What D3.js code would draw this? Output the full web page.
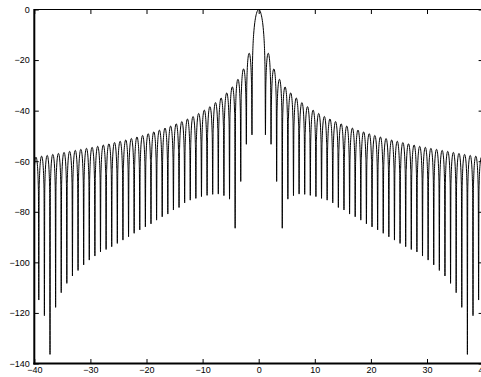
<!DOCTYPE html>
<html>
<head>
<meta charset="utf-8">
<script src="https://cdn.jsdelivr.net/npm/d3@7"></script>
<style>
  html, body { margin: 0; padding: 0; background: #fff; }
  svg { display: block; }
</style>
</head>
<body>
<div id="chart"></div>
<script>
const xTicks = [-40, -30, -20, -10, 0, 10, 20, 30, 40];
const yTicks = [0, -20, -40, -60, -80, -100, -120, -140];

// main lobe, right half (the plot is symmetric about 0)
const mainX = [0, 0.2, 0.4, 0.6, 0.7, 0.8, 0.9, 1.0, 1.05, 1.1, 1.15];
const mainDb = [0, -0.4, -1.6, -3.7, -5.2, -7.2, -9.8, -13.5, -16.3, -20.5, -28];

// nulls on the right side, mirrored for the left
const nullX = [1.2, 2.2, 3.2, 4.2, 5.2, 6.2, 7.2, 8.2, 9.2, 10.2,
  11.2, 12.2, 13.2, 14.2, 15.2, 16.2, 17.2, 18.2, 19.2, 20.2,
  21.2, 22.2, 23.2, 24.2, 25.2, 26.2, 27.2, 28.2, 29.2, 30.2,
  31.2, 32.2, 33.2, 34.2, 35.2, 36.2, 37.2, 38.2, 39.2];
const nullDb = [-49.6, -53.3, -68.0, -86.5, -75.0, -73.6, -73.0, -73.1, -73.5, -74.0,
  -74.7, -75.4, -76.5, -78.3, -79.3, -80.9, -82.0, -83.3, -84.8, -86.0,
  -87.2, -88.5, -89.9, -91.2, -92.5, -93.8, -94.9, -95.9, -97.5, -99.1,
  -101.0, -103.2, -105.4, -108.3, -112.0, -117.8, -136.4, -121.1, -114.9];

// sidelobe peaks, one per lobe starting at each null
const peakDb = [-17.3, -23.5, -27.6, -30.6, -33.0, -35.0, -36.8, -38.4, -39.8, -41.1,
  -42.3, -43.3, -44.3, -45.2, -46.1, -46.9, -47.7, -48.4, -49.1, -49.8,
  -50.4, -51.0, -51.6, -52.1, -52.6, -53.1, -53.6, -54.1, -54.5, -54.9,
  -55.3, -55.7, -56.1, -56.5, -56.9, -57.3, -57.7, -58.0, -58.4];

// shape of one sidelobe: position across the lobe and dB below its peak
const lobeWidth = 1;
const lobeFrac = [0.06, 0.1, 0.15, 0.2, 0.25, 0.32, 0.4, 0.5, 0.6, 0.68, 0.75, 0.8, 0.85, 0.9, 0.94];
const lobeDrop = [-14.5, -10.2, -6.9, -4.6, -3.0, -1.5, -0.4, 0, -0.4, -1.5, -3.0, -4.6, -6.9, -10.2, -14.5];

const width = 481;
const height = 377;
const plot = { l: 34.3, r: 483.1, t: 9.5, b: 363.5 };
const fontSize = 9;

const half = mainX.slice(1).map((x, i) => [x, mainDb[i + 1]]);
nullX.forEach((nx, i) => {
  half.push([nx, nullDb[i]]);
  lobeFrac.forEach((f, j) => half.push([nx + f * lobeWidth, peakDb[i] + lobeDrop[j]]));
});
const points = half.map(([x, v]) => [-x, v]).reverse()
  .concat([[mainX[0], mainDb[0]]], half);

const svg = d3.select('#chart').append('svg')
  .attr('width', width)
  .attr('height', height)
  .attr('viewBox', [0, 0, width, height])
  .attr('xmlns', 'http://www.w3.org/2000/svg')
  .style('background', '#fff');

const scaleX = d3.scaleLinear().domain([-40, 40]).range([plot.l, plot.r]);
const scaleY = d3.scaleLinear().domain([-140, 0]).range([plot.b, plot.t]);

svg.append('clipPath')
  .attr('id', 'plot-clip')
  .append('rect')
  .attr('x', plot.l)
  .attr('y', plot.t - 1)
  .attr('width', plot.r - plot.l)
  .attr('height', plot.b - plot.t + 1);

const line = d3.line()
  .x((d) => scaleX(d[0]))
  .y((d) => scaleY(d[1]))
  .curve(d3.curveMonotoneX);

svg.append('path')
  .datum(points)
  .attr('clip-path', 'url(#plot-clip)')
  .attr('fill', 'none')
  .attr('stroke', '#000')
  .attr('stroke-width', 1)
  .attr('d', line);

// ticks, inward on all four sides
const tickLen = 4.5;
const axisFont = (g) => g
  .attr('font-family', '"Liberation Sans", Arial, Helvetica, sans-serif')
  .attr('font-size', fontSize)
  .call((g) => g.select('.domain').remove())
  .call((g) => g.selectAll('line').attr('stroke', '#000'))
  .call((g) => g.selectAll('text').attr('fill', '#000'));

svg.append('g')
  .attr('transform', `translate(${plot.l},0)`)
  .call(d3.axisLeft(scaleY).tickValues(yTicks).tickSize(-tickLen).tickPadding(4.5))
  .call(axisFont);

svg.append('g')
  .attr('transform', `translate(${plot.r},0)`)
  .call(d3.axisRight(scaleY).tickValues(yTicks).tickSize(-tickLen).tickFormat(''))
  .call(axisFont);

svg.append('g')
  .attr('transform', `translate(0,${plot.b})`)
  .call(d3.axisBottom(scaleX).tickValues(xTicks).tickSize(-tickLen).tickPadding(3.5))
  .call(axisFont);

svg.append('g')
  .attr('transform', `translate(0,${plot.t})`)
  .call(d3.axisTop(scaleX).tickValues(xTicks).tickSize(-tickLen).tickFormat(''))
  .call(axisFont);

// box
svg.append('g')
  .attr('stroke', '#000')
  .attr('fill', 'none')
  .call((g) => g.append('line')
    .attr('x1', plot.l).attr('x2', plot.r).attr('y1', plot.t).attr('y2', plot.t)
    .attr('stroke-width', 1))
  .call((g) => g.append('line')
    .attr('x1', plot.r).attr('x2', plot.r).attr('y1', plot.t).attr('y2', plot.b)
    .attr('stroke-width', 1))
  .call((g) => g.append('line')
    .attr('x1', plot.l).attr('x2', plot.l).attr('y1', plot.t - 0.5).attr('y2', plot.b + 1)
    .attr('stroke-width', 2))
  .call((g) => g.append('line')
    .attr('x1', plot.l - 1).attr('x2', plot.r).attr('y1', plot.b).attr('y2', plot.b)
    .attr('stroke-width', 2));
</script>
</body>
</html>
